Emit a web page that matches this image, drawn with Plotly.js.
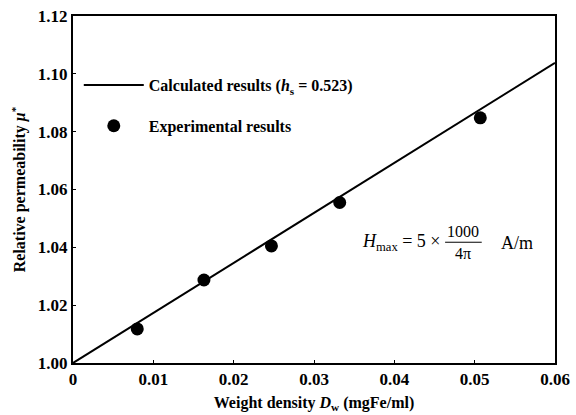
<!DOCTYPE html>
<html>
<head>
<meta charset="utf-8">
<script src="https://cdn.plot.ly/plotly-3.0.1.min.js"></script>
<style>body{margin:0;padding:0;background:#fff;} #chart{width:576px;height:415px;}</style>
</head>
<body>
<div id="chart"></div>
<script>
// Calculated line (h_s = 0.523)
const calcX = [0, 0.06];
const calcY = [1.0, 1.1038];
// Experimental results
const expX = [0.0080, 0.0163, 0.0247, 0.0332, 0.0507];
const expY = [1.0118, 1.0287, 1.0405, 1.0555, 1.0848];
// Ticks
const xTicks = [0, 0.01, 0.02, 0.03, 0.04, 0.05, 0.06];
const xTickText = ['0', '0.01', '0.02', '0.03', '0.04', '0.05', '0.06'];
const yTicks = [1.00, 1.02, 1.04, 1.06, 1.08, 1.10, 1.12];
const yTickText = ['1.00', '1.02', '1.04', '1.06', '1.08', '1.10', '1.12'];

const FONT = 'Liberation Serif, Times New Roman, serif';

const traces = [
  {
    x: calcX, y: calcY, mode: 'lines', type: 'scatter', legendgroup: 'calc',
    name: '<b>Calculated results (<i>h</i><sub>s</sub> = 0.523)</b>',
    line: {color: '#000', width: 2}
  },
  {
    x: expX, y: expY, mode: 'markers', type: 'scatter', legendgroup: 'exp',
    name: '<b>Experimental results</b>',
    marker: {color: '#000', size: 13, symbol: 'circle'}
  }
];

const axisCommon = {
  showgrid: false, zeroline: false,
  showline: true, linecolor: '#000', linewidth: 2, mirror: true,
  ticks: 'inside', ticklen: 3, tickwidth: 1, tickcolor: '#000',
  tickfont: {family: FONT, size: 17, color: '#000', weight: 'bold'}
};

const layout = {
  width: 576, height: 415,
  margin: {l: 73, r: 21, t: 16, b: 52},
  paper_bgcolor: '#fff', plot_bgcolor: '#fff',
  font: {family: FONT, color: '#000'},
  xaxis: Object.assign({}, axisCommon, {
    range: [0, 0.06], tickvals: xTicks, ticktext: xTickText,
    title: {text: '<b>Weight density <i>D</i><sub>w</sub> (mgFe/ml)</b>', font: {family: FONT, size: 16, color: '#000'}, standoff: 8}
  }),
  yaxis: Object.assign({}, axisCommon, {
    range: [1.0, 1.12], tickvals: yTicks, ticktext: yTickText,
    title: {text: '<b>Relative permeability <i>μ</i><sup>*</sup></b>', font: {family: FONT, size: 16, color: '#000'}, standoff: 8}
  }),
  showlegend: true,
  legend: {
    x: 0.012, y: 0.85, xanchor: 'left', yanchor: 'top',
    bgcolor: 'rgba(0,0,0,0)', borderwidth: 0,
    font: {family: FONT, size: 16, color: '#000'},
    itemwidth: 60, tracegroupgap: 17
  },
  annotations: [
    {xref: 'paper', yref: 'paper', x: 0.768, y: 0.346, xanchor: 'right', yanchor: 'middle', showarrow: false,
     text: '<i>H</i><sub>max</sub> = 5 ×', font: {family: FONT, size: 18, color: '#000'}},
    {xref: 'paper', yref: 'paper', x: 0.809, y: 0.38, xanchor: 'center', yanchor: 'middle', showarrow: false,
     text: '1000', font: {family: FONT, size: 16, color: '#000'}},
    {xref: 'paper', yref: 'paper', x: 0.809, y: 0.315, xanchor: 'center', yanchor: 'middle', showarrow: false,
     text: '4π', font: {family: FONT, size: 16, color: '#000'}},
    {xref: 'paper', yref: 'paper', x: 0.884, y: 0.346, xanchor: 'left', yanchor: 'middle', showarrow: false,
     text: 'A/m', font: {family: FONT, size: 18, color: '#000'}}
  ],
  shapes: [
    {type: 'line', xref: 'paper', yref: 'paper', x0: 0.772, x1: 0.848, y0: 0.348, y1: 0.348, line: {color: '#000', width: 1}}
  ]
};

Plotly.newPlot('chart', traces, layout, {displayModeBar: false, staticPlot: true});
</script>
</body>
</html>
